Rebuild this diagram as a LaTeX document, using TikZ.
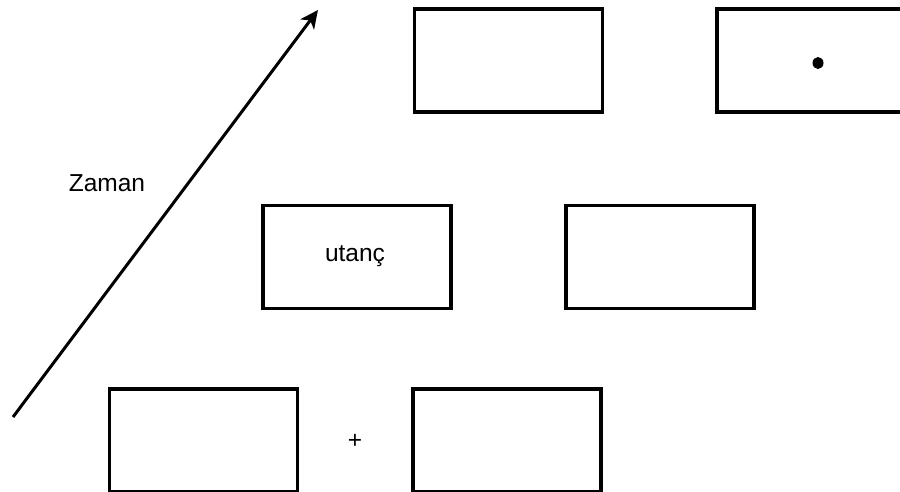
\documentclass[tikz,border=0pt]{standalone}
\usepackage{fontspec}
\setmainfont{Liberation Sans}
\usetikzlibrary{arrows.meta,shapes.geometric}
\begin{document}
\begin{tikzpicture}[x=1pt,y=-1pt,
  panel/.style={draw=black,line width=3.5pt,rectangle,minimum width=188pt,minimum height=103pt,inner sep=0pt,fill=white},
  lbl/.style={font=\fontsize{24.5}{29}\selectfont,inner sep=0pt,text=black}]
\useasboundingbox (0,0) rectangle (900,491);
\fill[white] (0,0) rectangle (900,491);
\node[panel] (A) at (508.5,60.5) {};
\node[panel] (B) at (811,60.5) {};
\node[panel] (C) at (357,257) {};
\node[panel] (D) at (660,257) {};
\node[panel] (E) at (203.5,440.5) {};
\node[panel] (F) at (507,440.5) {};
\node[lbl] (ut) at (355,256) {utanç};
\node[lbl] (plus) at (355,441) {+};
\node[lbl] (zaman) at (107,183) {Zaman};
\node[ellipse,fill=black,minimum width=11pt,minimum height=12pt,inner sep=0pt] (dot) at (818,63) {};
\coordinate (t0) at (13,417);
\coordinate (t1) at (318,10);
\draw[line width=3pt,-{Stealth[length=18pt,width=17pt,inset=5pt]}] (t0) -- (t1);
\end{tikzpicture}
\end{document}
